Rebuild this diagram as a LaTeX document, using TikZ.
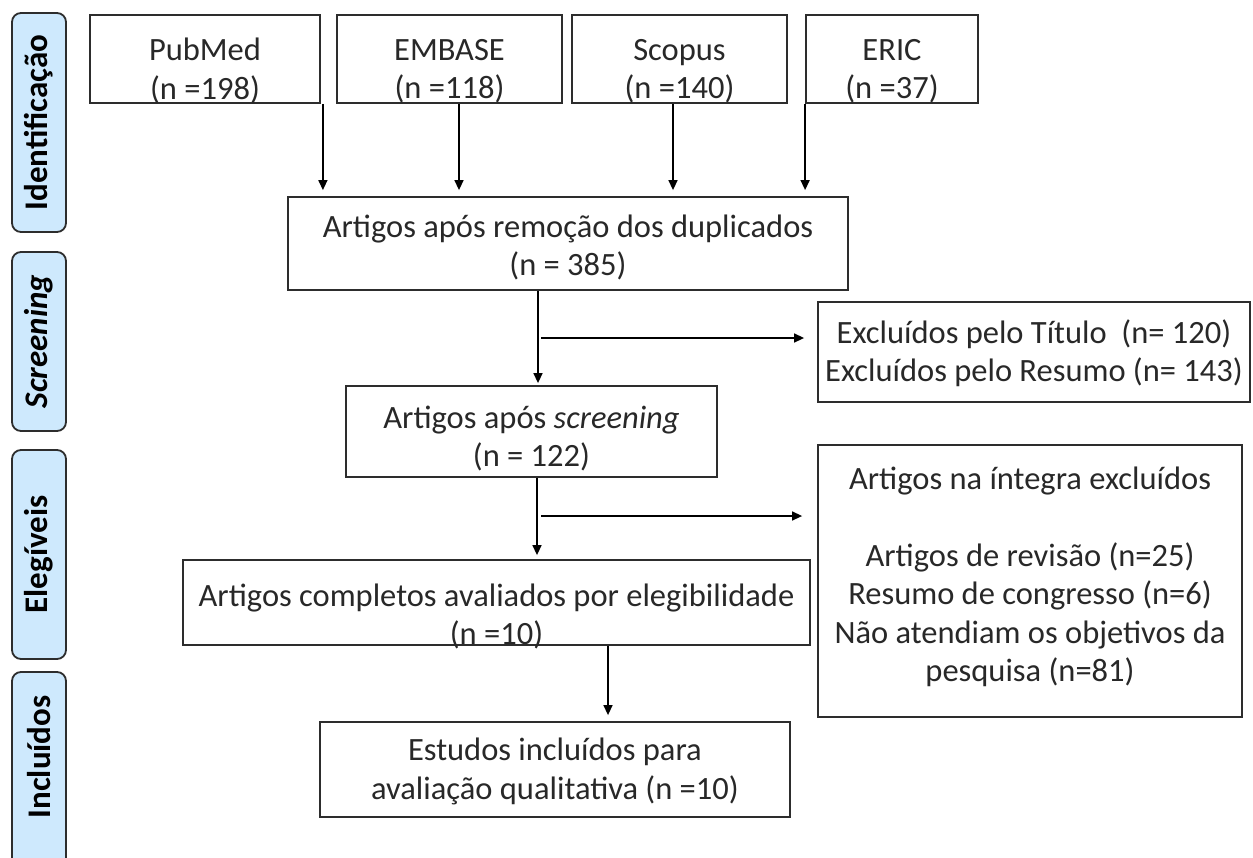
\documentclass[tikz,border=0pt]{standalone}
\usepackage{fontspec}
\setmainfont{Carlito}
\usetikzlibrary{arrows.meta}
\definecolor{sidefill}{RGB}{206,233,253}
\definecolor{ink}{RGB}{40,40,40}
\definecolor{edge}{RGB}{45,45,45}
\begin{document}
\begin{tikzpicture}[x=1pt,y=-1pt,
  box/.style={draw=edge,line width=1.8pt,rectangle,inner sep=0pt},
  txt/.style={text=ink,align=center,font=\fontsize{32.5}{38.5}\selectfont,inner sep=0pt},
  side/.style={draw=edge,line width=1.8pt,fill=sidefill,rounded corners=9pt,minimum width=54pt,inner sep=0pt},
  sidetxt/.style={text=black,rotate=90,font=\fontsize{33}{38}\selectfont\bfseries},
  arr/.style={draw=black,line width=1.4pt,-{Triangle[length=10pt,width=9pt]}}]
\useasboundingbox (0,0) rectangle (1253,857);
\fill[white] (0,0) rectangle (1253,857);
% side bar
\node[side,minimum height=219pt] (sId) at (39,122.5) {};
\node[sidetxt] at (sId.center) {Identificação};
\node[side,minimum height=179pt] (sSc) at (39,341.5) {};
\node[sidetxt] at (sSc.center) {\itshape Screening};
\node[side,minimum height=209pt] (sEl) at (39,554.5) {};
\node[sidetxt] at (sEl.center) {Elegíveis};
\node[side,minimum height=200pt] (sIn) at (39,772) {};
\node[sidetxt] at ([yshift=15pt]sIn.center) {Incluídos};
% top row
\node[box,minimum width=230pt,minimum height=88pt] (pub) at (205,59) {};
\node[txt] at ([yshift=-12pt]pub.center) {PubMed\\(n =198)};
\node[box,minimum width=225pt,minimum height=88pt] (emb) at (449.5,59) {};
\node[txt] at ([yshift=-12pt]emb.center) {EMBASE\\(n =118)};
\node[box,minimum width=215pt,minimum height=88pt] (sco) at (679.5,59) {};
\node[txt] at ([yshift=-12pt]sco.center) {Scopus\\(n =140)};
\node[box,minimum width=172pt,minimum height=88pt] (eric) at (892,59) {};
\node[txt] at ([yshift=-12pt]eric.center) {ERIC\\(n =37)};
% main flow
\node[box,minimum width=560pt,minimum height=93pt] (dup) at (568,243.5) {};
\node[txt] at ([yshift=-4pt]dup.center) {Artigos após remoção dos duplicados\\(n = 385)};
\node[box,minimum width=432pt,minimum height=100pt] (ex1) at (1034,352) {};
\node[txt] at ([yshift=-1pt]ex1.center) {Excluídos pelo Título~~(n= 120)\\Excluídos pelo Resumo (n= 143)};
\node[box,minimum width=371pt,minimum height=91pt] (scr) at (531.5,431.5) {};
\node[txt] at ([yshift=-7pt]scr.center) {Artigos após \textit{screening}\\(n = 122)};
\node[box,minimum width=424pt,minimum height=272pt] (ex2) at (1030,581) {};
\node[txt] at ([yshift=4pt]ex2.center) {Artigos na íntegra excluídos\\[38pt]Artigos de revisão (n=25)\\Resumo de congresso (n=6)\\Não atendiam os objetivos da\\pesquisa (n=81)};
\node[box,minimum width=627pt,minimum height=85pt] (eli) at (496.5,602.5) {};
\node[txt] at ([yshift=-14pt]eli.center) {Artigos completos avaliados por elegibilidade\\(n =10)};
\node[box,minimum width=470pt,minimum height=95pt] (inc) at (555,769.5) {};
\node[txt] at ([yshift=-2pt]inc.center) {Estudos incluídos para\\avaliação qualitativa (n =10)};
% connectors
\draw[arr,shorten >=6pt] ([xshift=2pt]pub.south east) -- ([xshift=2pt]pub.south east |- dup.north);
\draw[arr,shorten >=6pt] ([xshift=9.5pt]emb.south) -- ([xshift=9.5pt]emb.south |- dup.north);
\draw[arr,shorten >=6pt] ([xshift=-6.5pt]sco.south) -- ([xshift=-6.5pt]sco.south |- dup.north);
\draw[arr,shorten >=6pt] (eric.south west) -- (eric.south west |- dup.north);
\draw[arr,shorten >=2pt] ([xshift=-30pt]dup.south) -- ([xshift=-30pt]dup.south |- scr.north);
\coordinate (b1) at (541,338);
\draw[arr,shorten >=13pt] (b1) -- (b1 -| ex1.west);
\draw[arr,shorten >=4pt] ([xshift=5.5pt]scr.south) -- ([xshift=5.5pt]scr.south |- eli.north);
\coordinate (b2) at (541,516);
\draw[arr,shorten >=15pt] (b2) -- (b2 -| ex2.west);
\draw[arr,shorten >=6pt] ([xshift=111.5pt]eli.south) -- ([xshift=111.5pt]eli.south |- inc.north);
\end{tikzpicture}
\end{document}
